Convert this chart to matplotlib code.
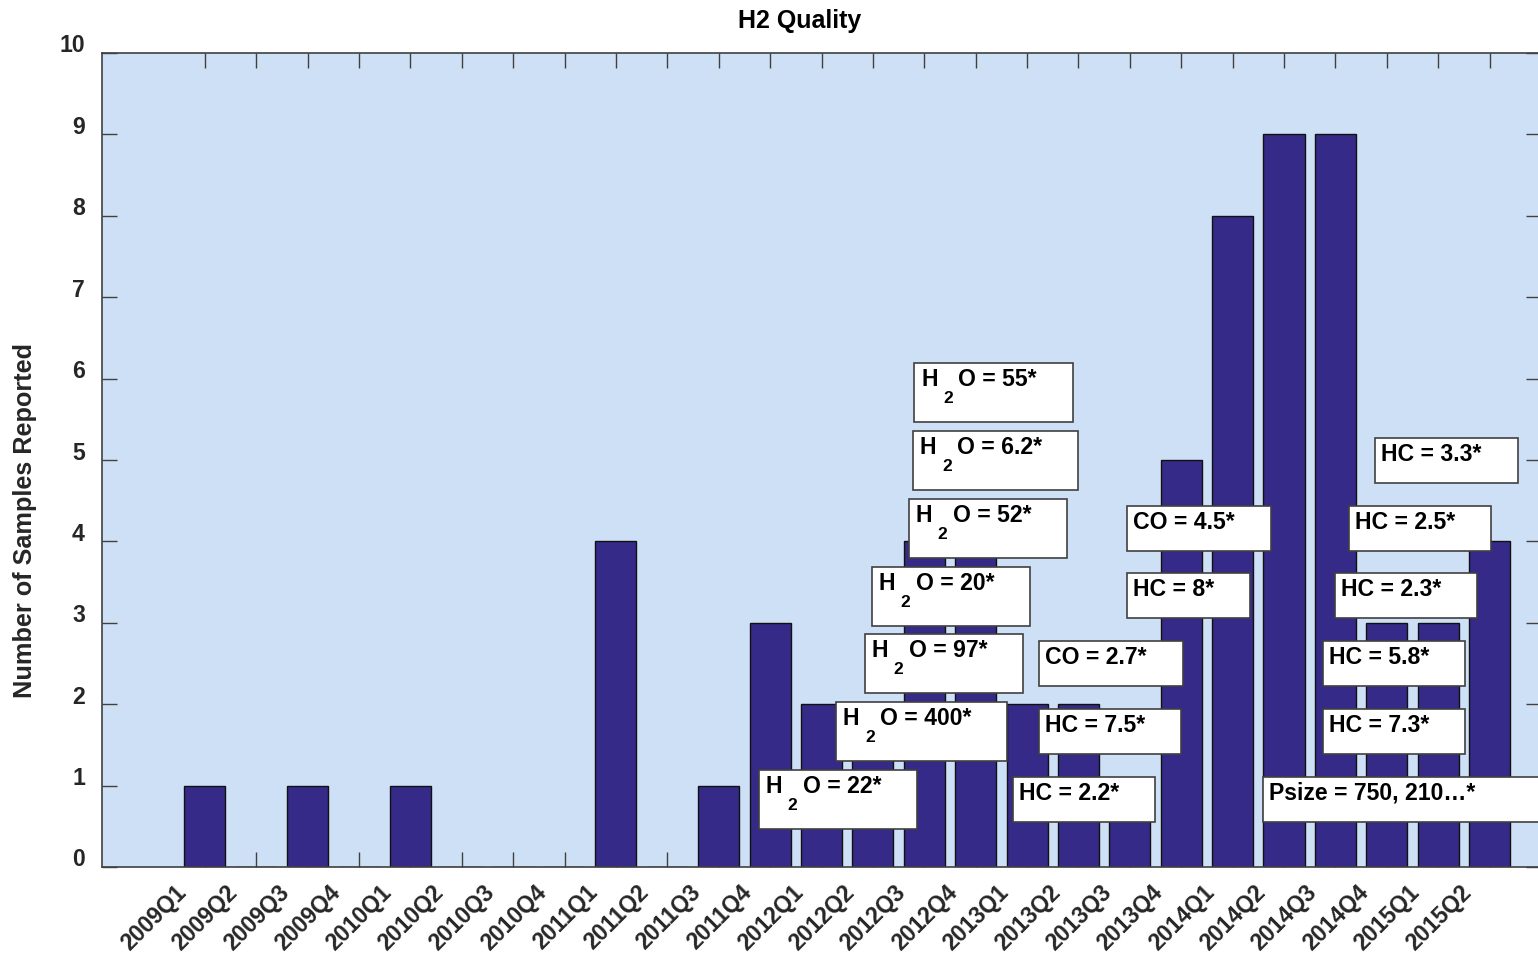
import numpy as np
import matplotlib
matplotlib.use('Agg')
import matplotlib.pyplot as plt
from matplotlib.transforms import ScaledTranslation, blended_transform_factory
from matplotlib.patches import Rectangle

# ---------------- data ----------------
quarters = ['2009Q1', '2009Q2', '2009Q3', '2009Q4', '2010Q1', '2010Q2', '2010Q3',
            '2010Q4', '2011Q1', '2011Q2', '2011Q3', '2011Q4', '2012Q1', '2012Q2',
            '2012Q3', '2012Q4', '2013Q1', '2013Q2', '2013Q3', '2013Q4', '2014Q1',
            '2014Q2', '2014Q3', '2014Q4', '2015Q1', '2015Q2']
samples = [1, 0, 1, 0, 1, 0, 0, 0, 4, 0, 1, 3, 2, 2, 4, 4, 2, 2, 1, 5, 8, 9, 9, 3, 3, 4]
yticks = list(range(0, 11))

# annotation texts: (species, value); species 'H2O' drawn with subscript
note_species = ['H2O', 'H2O', 'H2O', 'H2O', 'H2O', 'H2O', 'H2O',
                'CO', 'HC', 'HC', 'CO', 'HC', 'HC', 'HC', 'HC', 'HC', 'HC', 'Psize']
note_values = ['55', '6.2', '52', '20', '97', '400', '22',
               '2.7', '7.5', '2.2', '4.5', '8', '3.3', '2.5', '2.3', '5.8', '7.3', '750, 210\u2026']
# box top-left anchor positions (data coords)
note_x = [15.80, 15.78, 15.70, 14.98, 14.84, 14.28, 12.78,
          18.23, 18.23, 17.72, 19.94, 19.94, 24.77, 24.26, 23.99, 23.75, 23.75, 22.59]
note_y = [6.19, 5.36, 4.52, 3.69, 2.86, 2.03, 1.19,
          2.78, 1.94, 1.11, 4.43, 3.61, 5.27, 4.43, 3.61, 2.78, 1.94, 1.11]

# ---------------- style ----------------
plt.rcParams['font.family'] = ['Liberation Sans', 'DejaVu Sans']
plt.rcParams['font.weight'] = 'bold'
DPI = 100
BAR_COLOR = '#352A87'
BG_COLOR = '#CEE0F6'
AX_COLOR = '#404040'
TXT_COLOR = '#262626'
FS = 16.6

fig = plt.figure(figsize=(15.38, 9.57), dpi=DPI)
ax = fig.add_axes([102 / 1538, 90 / 957, (1541 - 102) / 1538, (867 - 53) / 957])
ax.set_facecolor(BG_COLOR)

positions = np.arange(len(samples)) + 2
ax.bar(positions, samples, width=0.8, color=BAR_COLOR, edgecolor='#111111',
       linewidth=1.0, zorder=2)

ax.set_xlim(0, 28)
ax.set_ylim(0, 10)
ax.set_xticks(positions)
ax.set_xticklabels([])
ax.set_yticks(yticks)
ax.set_yticklabels([])
ax.tick_params(direction='in', length=10.8, width=1.0, color=AX_COLOR,
               top=True, right=True, bottom=True, left=True)
for s in ax.spines.values():
    s.set_color(AX_COLOR)
    s.set_linewidth(1.2)

def px(dx, dy):
    return ScaledTranslation(dx / DPI, dy / DPI, fig.dpi_scale_trans)

# x tick labels (rotated, offset like the original)
bx = blended_transform_factory(ax.transData, ax.transAxes)
for p, q in zip(positions, quarters):
    ax.text(p, 0, q, transform=bx + px(-30, -14), rotation=45, ha='right', va='top',
            rotation_mode='anchor', fontsize=FS, fontweight='bold', color=TXT_COLOR,
            clip_on=False)

# y tick labels
by = blended_transform_factory(ax.transAxes, ax.transData)
for v in yticks:
    ax.text(0, v, str(v), transform=by + px(-17, 7), ha='right', va='center',
            fontsize=FS, fontweight='bold', color=TXT_COLOR, clip_on=False)

fig.text(0.52, 1 - 21 / 957, 'H2 Quality', ha='center', va='center', fontsize=18,
         fontweight='bold', color='black')
fig.text(25 / 1538, 1 - 520 / 957, 'Number of Samples Reported', rotation=90,
         ha='center', va='center', fontsize=18.2, fontweight='bold', color=TXT_COLOR)

# annotations
fig.canvas.draw()
renderer = fig.canvas.get_renderer()
inv = ax.transData.inverted()
x_right_edge = ax.transData.transform((ax.get_xlim()[1], 0))[0]
for sp, val, x, y in zip(note_species, note_values, note_x, note_y):
    if sp == 'H2O':
        ax.text(x, y, 'H', transform=ax.transData + px(7, -23), ha='left',
                va='baseline', fontsize=FS, fontweight='bold', color='black', zorder=6)
        ax.text(x, y, '2', transform=ax.transData + px(29, -40), ha='left',
                va='baseline', fontsize=12.5, fontweight='bold', color='black', zorder=6)
        last = ax.text(x, y, 'O = ' + val + '*', transform=ax.transData + px(44, -23),
                       ha='left', va='baseline', fontsize=FS, fontweight='bold',
                       color='black', zorder=6)
        h = 59
    else:
        last = ax.text(x, y, sp + ' = ' + val + '*', transform=ax.transData + px(6, -23),
                       ha='left', va='baseline', fontsize=FS, fontweight='bold',
                       color='black', zorder=6)
        h = 45
    ext = last.get_window_extent(renderer)
    x0, y0 = ax.transData.transform((x, y))
    right = ext.x1 + 36
    if sp == 'Psize':
        right = x_right_edge + 10  # box runs off the right edge as in the original
    (dx0, dy0) = inv.transform((x0, y0 - h))
    (dx1, dy1) = inv.transform((right, y0))
    ax.add_patch(Rectangle((dx0, dy0), dx1 - dx0, dy1 - dy0, facecolor='white',
                           edgecolor=AX_COLOR, linewidth=1.2, zorder=5, clip_on=False))

fig.savefig('out.png', dpi=DPI)
